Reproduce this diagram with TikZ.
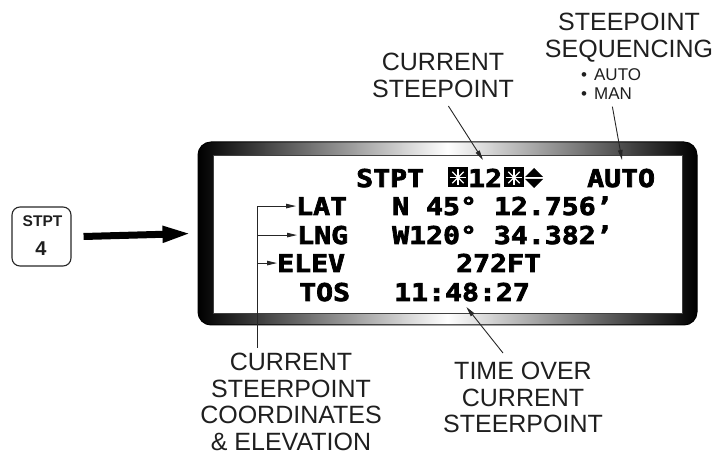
\documentclass[tikz,border=0pt]{standalone}
\usepackage{fontspec}
\newfontfamily\lblfont{Liberation Sans}
\newfontfamily\lcdfont[FakeStretch=1.15,FakeBold=3]{DejaVu Sans Mono Bold}
\usetikzlibrary{arrows.meta}
\begin{document}
\begin{tikzpicture}[x=1pt,y=-1pt,
  lbl/.style={font=\lblfont\fontsize{25}{26.5}\selectfont, text=black!88, align=center, inner sep=0pt},
  smalllbl/.style={font=\lblfont\fontsize{17}{19.5}\selectfont, text=black!88, align=left, inner sep=0pt},
  lcd/.style={font=\lcdfont\fontsize{24.5}{25}\selectfont, inner sep=0pt, anchor=base west},
  ptr/.style={draw=black!85, line width=0.9pt, -{Triangle[length=10pt,width=4.5pt]}},
  plainline/.style={draw=black!85, line width=0.9pt},
  bigarrow/.style={draw=black, line width=7pt, -{Triangle[length=29pt,width=15pt]}},
  starbox/.style={fill=black, minimum size=20pt, inner sep=0pt},
  framebox/.style={draw=black, line width=1pt, rounded corners=13pt, minimum width=499pt, minimum height=183pt,
    left color=black, right color=black, middle color=white, inner sep=0pt},
  screenbox/.style={draw=black!75, line width=0.8pt, fill=white, minimum width=469pt, minimum height=158pt, inner sep=0pt},
  keybox/.style={draw=black!85, line width=1.1pt, rounded corners=8pt, minimum width=59pt, minimum height=59pt, inner sep=0pt}
]
\useasboundingbox (0,0) rectangle (715,454);

% display frame
\node[framebox] (disp) at (447.5,233.5) {};
\node[screenbox] (screen) at (447.5,234) {};

% display text
\node[lcd] (stpt) at (356,187) {STPT};
\node[starbox] (s1) at (458,177.5) {};
\node[lcd] (twelve) at (468,187) {12};
\node[starbox] (s2) at (514,177.5) {};
\foreach \a in {0,45,90,135} {
  \draw[white, line width=1.2pt] ([shift={(\a:8pt)}]s1.center) -- ([shift={(\a+180:8pt)}]s1.center);
  \draw[white, line width=1.2pt] ([shift={(\a:8pt)}]s2.center) -- ([shift={(\a+180:8pt)}]s2.center);
}
\fill (525,177) -- (543,177) -- (534,168) -- cycle;
\fill (525,179) -- (543,179) -- (534,188) -- cycle;
\node[lcd] (autov) at (587,187) {AUTO};

\node[lcd] (lat) at (296,215) {LAT};
\node[lcd] (latv) at (392,215) {N 45° 12.756’};
\node[lcd] (lng) at (297,244) {LNG};
\node[lcd] (lngv) at (392,244) {W120° 34.382’};
\node[lcd] (elev) at (277,272) {ELEV};
\node[lcd] (elevv) at (456,272) {272FT};
\node[lcd] (tos) at (299,301) {TOS};
\node[lcd] (tosv) at (394,301) {11:48:27};

% key
\node[keybox] (key) at (41.5,236.5) {};
\node[font=\lblfont\bfseries\fontsize{15.5}{16}\selectfont, text=black!88, anchor=base, inner sep=0pt] (keytop) at (42.5,227) {STPT};
\node[font=\lblfont\bfseries\fontsize{20}{20}\selectfont, text=black!88, anchor=base, inner sep=0pt] (keynum) at (41,255.5) {4};
\draw[bigarrow] ([xshift=12pt]key.east) -- ([xshift=-6pt]disp.west);

% labels
\node[lbl, anchor=north] (curstp) at (443,53) {CURRENT\\STEEPOINT};
\node[lbl, anchor=north] (seq) at (629,13) {STEEPOINT\\SEQUENCING};
\node[smalllbl, anchor=north west] (seqopts) at (581,68) {•\hspace{7pt}AUTO\\•\hspace{7pt}MAN};
\node[lbl, anchor=north] (tosl) at (523,362) {TIME OVER\\CURRENT\\STEERPOINT};
\node[lbl, anchor=north] (coordl) at (291,353) {CURRENT\\STEERPOINT\\COORDINATES\\\& ELEVATION};

% pointers
\coordinate (p12) at (483,160);
\draw[ptr, shorten <=10pt] (curstp.south) -- (p12);
\coordinate (pauto) at (622,160);
\draw[ptr, shorten <=7pt] (seqopts.south) -- (pauto);
\draw[ptr, shorten >=7pt] ([xshift=-20pt,yshift=9pt]tosl.north) -- (tosv.south);

\coordinate (brX) at (257,0);
\coordinate (brTop) at (brX |- lat.west);
\draw[plainline, shorten >=5pt] (brTop) -- (brTop |- coordl.north);
\draw[ptr] (brTop) -- (lat.west);
\draw[ptr] (brTop |- lng.west) -- (lng.west);
\draw[ptr] (brTop |- elev.west) -- (elev.west);
\end{tikzpicture}
\end{document}
